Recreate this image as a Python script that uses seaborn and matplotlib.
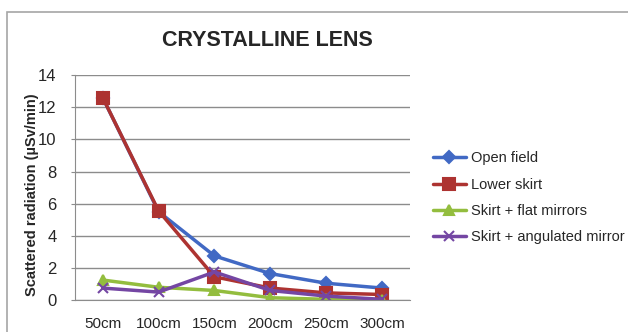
import matplotlib
matplotlib.use("Agg")
import matplotlib.pyplot as plt
import pandas as pd
import seaborn as sns
from matplotlib.patches import Rectangle

distances = ["50cm", "100cm", "150cm", "200cm", "250cm", "300cm"]
open_field = [12.6, 5.5, 2.75, 1.65, 1.05, 0.75]
lower_skirt = [12.6, 5.55, 1.45, 0.75, 0.45, 0.35]
flat_mirrors = [1.25, 0.8, 0.6, 0.15, 0.05, 0.0]
angulated_mirror = [0.75, 0.5, 1.75, 0.6, 0.25, 0.05]

series_names = ["Open field", "Lower skirt", "Skirt + flat mirrors", "Skirt + angulated mirror"]
series_values = [open_field, lower_skirt, flat_mirrors, angulated_mirror]
colors = ["#4169c4", "#ad3331", "#93bd3e", "#7446a3"]
markers = ["D", "s", "^", "x"]
marker_sizes = [6, 8, 7, 7]

df = pd.DataFrame(
    [
        {"distance": d, "value": v, "series": name}
        for name, vals in zip(series_names, series_values)
        for d, v in zip(distances, vals)
    ]
)

sns.set_style("white")
plt.rcParams["font.family"] = ["Liberation Sans", "DejaVu Sans"]

fig = plt.figure(figsize=(6.28, 3.32), dpi=100)
ax = fig.add_axes([0.119, 0.096, 0.534, 0.678])

for name, color, marker, ms in zip(series_names, colors, markers, marker_sizes):
    sns.lineplot(
        data=df[df["series"] == name],
        x="distance",
        y="value",
        color=color,
        marker=marker,
        markersize=ms,
        markeredgecolor=color,
        markeredgewidth=1.5,
        linewidth=2.5,
        label=name,
        ax=ax,
        sort=False,
    )

ax.set_xlim(-0.5, 5.5)
ax.set_ylim(0, 14)
ax.set_yticks(range(0, 15, 2))
ax.grid(axis="y", color="#8c8c8c", linewidth=1)
ax.set_axisbelow(True)
for side in ["top", "right"]:
    ax.spines[side].set_visible(False)
for side in ["left", "bottom"]:
    ax.spines[side].set_color("#8c8c8c")
ax.tick_params(axis="y", left=True, length=3, color="#8c8c8c", labelsize=12, pad=10)
ax.tick_params(axis="x", bottom=False, labelsize=11, pad=9)
ax.set_xlabel("")
ax.set_ylabel("Scattered radiation (µSv/min)", fontsize=10.5, fontweight="bold")
ax.yaxis.set_label_coords(-0.108, 0.47)

fig.text(0.425, 0.877, "CRYSTALLINE LENS", ha="center", va="center", fontsize=15.5, fontweight="bold")

ax.legend(
    loc="center left",
    bbox_to_anchor=(0.68, 0.404),
    bbox_transform=fig.transFigure,
    borderaxespad=0,
    frameon=False,
    fontsize=10.5,
    handlelength=2.25,
    labelspacing=0.85,
    handletextpad=0.35,
)

fig.patches.append(
    Rectangle((0.011, -0.01), 0.995, 0.975, transform=fig.transFigure,
              fill=False, edgecolor="#a6a6a6", linewidth=1.2)
)

fig.savefig("out.png", dpi=100)
